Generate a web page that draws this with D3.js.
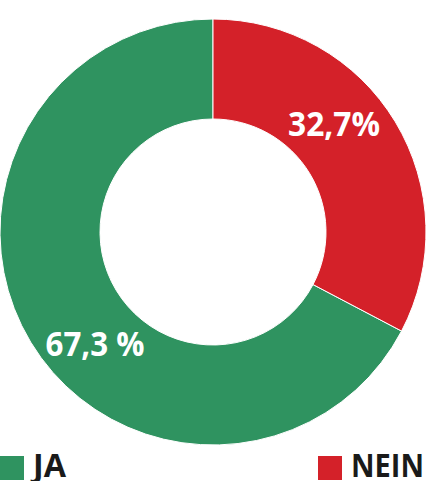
<!DOCTYPE html>
<html>
<head>
<meta charset="utf-8">
<script src="https://cdn.jsdelivr.net/npm/d3@7"></script>
<style>
  html, body { margin: 0; padding: 0; background: #fff; }
  svg { display: block; }
  text { font-family: "Open Sans", "Noto Sans", sans-serif; font-weight: 700; }
</style>
</head>
<body>
<svg id="chart" width="427" height="481"></svg>
<script>
const categories = ["JA", "NEIN"];
const values = [67.3, 32.7];
const labels = ["67,3 %", "32,7%"];
const colors = ["#2f9360", "#d42129"];

const W = 427, H = 481;
const cx = 213, cy = 232, rOuter = 213, rInner = 113;
const svg = d3.select("#chart");

const total = d3.sum(values);
const startA = -2 * Math.PI * values[0] / total;
const pie = d3.pie().sort(null).value(d => d)
  .startAngle(startA).endAngle(startA + 2 * Math.PI);
const arcs = pie(values);
const arc = d3.arc().innerRadius(rInner).outerRadius(rOuter);

const g = svg.append("g").attr("transform", `translate(${cx},${cy})`);
g.selectAll("path.slice").data(arcs).join("path")
  .attr("class", "slice")
  .attr("d", arc)
  .attr("fill", (d, i) => colors[i])
  .attr("stroke", "#fff")
  .attr("stroke-width", 1);

// value labels (text centre positions relative to the arc centroid direction)
const labelPos = [{ r: 163, shift: -12.5 }, { r: 162, shift: -10.5 }];
g.selectAll("text.val").data(arcs).join("text")
  .attr("class", "val")
  .attr("x", (d, i) => labelPos[i].r * Math.sin((d.startAngle + d.endAngle) / 2 + labelPos[i].shift * Math.PI / 180))
  .attr("y", (d, i) => -labelPos[i].r * Math.cos((d.startAngle + d.endAngle) / 2 + labelPos[i].shift * Math.PI / 180) + 12)
  .attr("text-anchor", "middle")
  .attr("fill", "#fff")
  .attr("font-size", 34)
  .attr("textLength", (d, i) => i === 0 ? 99 : 92)
  .attr("lengthAdjust", "spacingAndGlyphs")
  .text((d, i) => labels[i]);

// legend
const legend = [
  { x: 0, i: 0 },
  { x: 318, i: 1 }
];
const lg = svg.append("g");
lg.selectAll("rect").data(legend).join("rect")
  .attr("x", d => d.x).attr("y", 456)
  .attr("width", 24).attr("height", 24)
  .attr("fill", d => colors[d.i]);
lg.selectAll("text").data(legend).join("text")
  .attr("x", d => d.x + 33).attr("y", 477)
  .attr("fill", "#1a1a1a")
  .attr("font-size", 32)
  .attr("font-weight", 600)
  .attr("textLength", d => d.i === 0 ? 33 : 73)
  .attr("lengthAdjust", "spacingAndGlyphs")
  .text(d => categories[d.i]);
</script>
</body>
</html>
